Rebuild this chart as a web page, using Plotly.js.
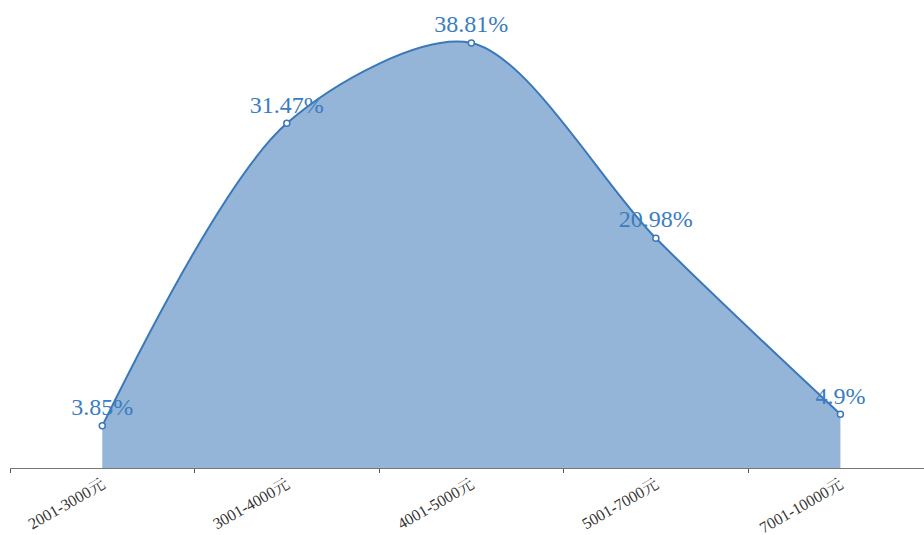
<!DOCTYPE html>
<html>
<head>
<meta charset="utf-8">
<script src="https://cdn.plot.ly/plotly-3.0.1.min.js"></script>
<style>html,body{margin:0;padding:0;background:#fff;}#chart{width:924px;height:535px;}</style>
</head>
<body>
<div id="chart"></div>
<script>
const categories = ["2001-3000元", "3001-4000元", "4001-5000元", "5001-7000元", "7001-10000元"];
const values = [3.85, 31.47, 38.81, 20.98, 4.9];
const labels = ["3.85%", "31.47%", "38.81%", "20.98%", "4.9%"];

const serif = 'Liberation Serif, Times New Roman, Noto Serif CJK SC, serif';

const trace = {
  type: 'scatter',
  mode: 'lines+markers+text',
  x: categories,
  y: values,
  text: labels,
  textposition: 'top center',
  textfont: {family: serif, size: 24, color: '#3a7dc0'},
  line: {shape: 'spline', smoothing: 0.85, color: '#3a78b9', width: 2},
  marker: {size: 6, color: '#ffffff', line: {color: '#3a78b9', width: 1.5}},
  fill: 'tozeroy',
  fillcolor: '#94b5d8',
  cliponaxis: false,
  hoverinfo: 'none'
};

const layout = {
  width: 924, height: 535,
  margin: {l: 10, r: 0, t: 8, b: 67},
  paper_bgcolor: '#ffffff', plot_bgcolor: '#ffffff',
  showlegend: false,
  xaxis: {
    type: 'category',
    range: [-0.5, 4.453],
    tickson: 'boundaries',
    ticks: 'outside', ticklen: 4, tickcolor: '#555555', tickwidth: 1,
    showline: true, linecolor: '#777777', linewidth: 1,
    showgrid: false, zeroline: false,
    tickangle: -30,
    tickfont: {family: serif, size: 16, color: '#333333'}
  },
  yaxis: {
    range: [0, 42],
    visible: false,
    showgrid: false, zeroline: false
  }
};

Plotly.newPlot('chart', [trace], layout, {displayModeBar: false, staticPlot: true});
</script>
</body>
</html>
